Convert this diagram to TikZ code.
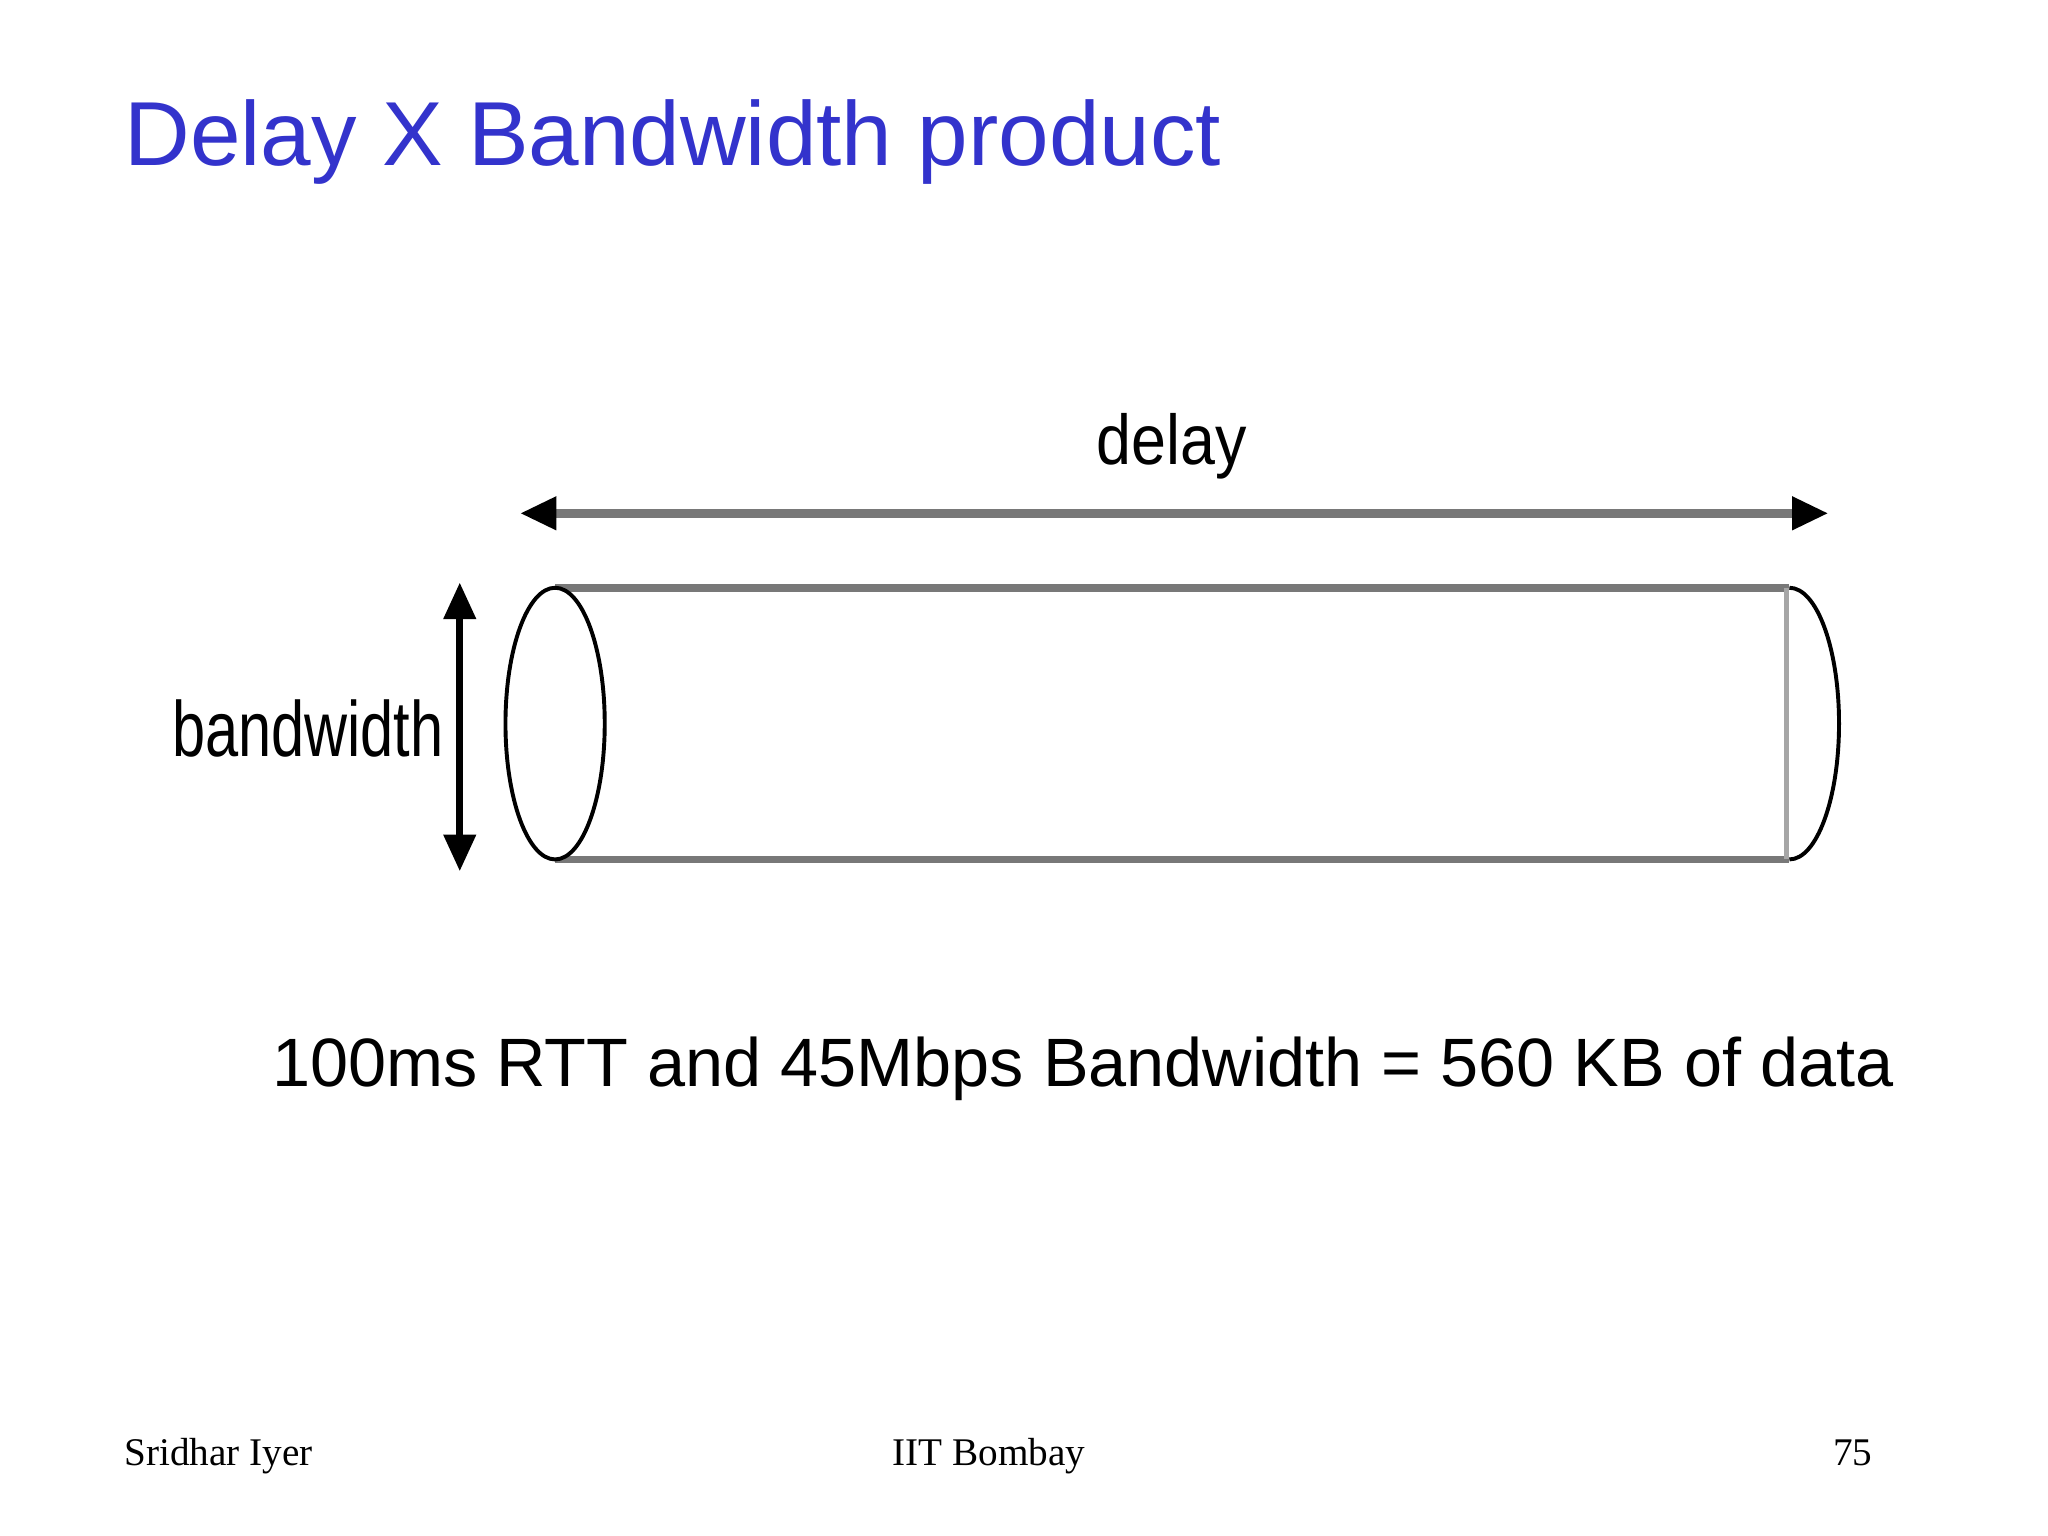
\documentclass[tikz,border=0pt]{standalone}
\usepackage{fontspec}
\setmainfont{Liberation Serif}
\newfontfamily\arialf{Liberation Sans}
\usetikzlibrary{arrows.meta}
\definecolor{titleblue}{RGB}{51,51,204}
\definecolor{pipegray}{RGB}{120,120,120}
\tikzset{pipe/.style={line width=3pt,draw=pipegray},
 dim/.style={line width=3.5pt,draw=pipegray,{Triangle[length=14pt,width=12pt,color=black]}-{Triangle[length=14pt,width=12pt,color=black]}}}
\begin{document}
\begin{tikzpicture}[x=0.5pt,y=-0.5pt]
\useasboundingbox[fill=white] (0,0) rectangle (1568,1176);
\node[anchor=base west,inner sep=0,text=titleblue,font=\arialf\fontsize{34.8}{40}\selectfont] (title) at (95,127) {Delay X Bandwidth product};
\coordinate (dl) at (398,393); \coordinate (dr) at (1400,393);
\draw[dim] (dl) -- (dr);
\node[font=\arialf\fontsize{27}{30}\selectfont,inner sep=0,xscale=0.89] (delay) at (897,342) {delay};
\coordinate (bt) at (352,446); \coordinate (bb) at (352,667);
\draw[dim,draw=black,line width=2.5pt] (bt) -- (bb);
\node[anchor=east,font=\arialf\fontsize{30}{34}\selectfont,inner sep=0,xscale=0.76] (bw) at (340,558) {bandwidth};
% pipe
\draw[pipe] (425,450) -- (1370,450);
\draw[pipe] (425,658) -- (1370,658);
\draw[line width=2pt,draw=black!35] (1368,450) -- (1368,658);
\draw[line width=1.5pt,black] (1370,450) arc[start angle=-90,end angle=90,x radius=38,y radius=104];
\draw[line width=1.5pt,black,fill=white] (425,554) ellipse[x radius=38,y radius=104];
\node[anchor=base west,inner sep=0,font=\arialf\fontsize{26.2}{30}\selectfont] (eq) at (208,832) {100ms RTT and 45Mbps Bandwidth = 560 KB of data};
\node[anchor=base west,inner sep=0,font=\fontsize{15}{18}\selectfont] (f1) at (95,1122) {Sridhar Iyer};
\node[anchor=base,inner sep=0,font=\fontsize{15}{18}\selectfont] (f2) at (757,1122) {IIT Bombay};
\node[anchor=base east,inner sep=0,font=\fontsize{15}{18}\selectfont] (f3) at (1434,1122) {75};
\end{tikzpicture}
\end{document}
